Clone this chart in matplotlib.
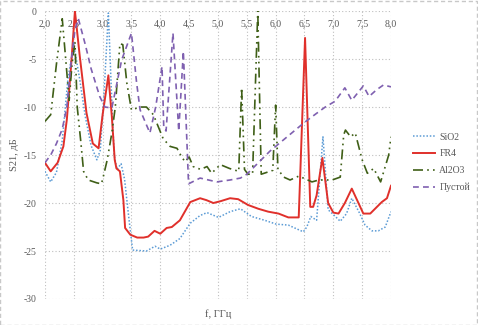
import matplotlib
matplotlib.use("Agg")
import matplotlib.pyplot as plt
from matplotlib.patches import Rectangle
from matplotlib.ticker import FuncFormatter

# S21 vs frequency for several substrates
f_sio2 = [2.0, 2.1, 2.2, 2.3, 2.4, 2.5, 2.6, 2.7, 2.8, 2.9, 2.96, 3.03, 3.1, 3.15, 3.2, 3.25,
          3.32, 3.38, 3.45, 3.52, 3.76, 3.91, 4.0, 4.17, 4.34, 4.52, 4.69, 4.81, 5.01, 5.21,
          5.39, 5.58, 5.81, 6.01, 6.22, 6.33, 6.48, 6.54, 6.61, 6.71, 6.82, 6.91, 7.0, 7.12,
          7.23, 7.32, 7.45, 7.55, 7.67, 7.78, 7.9, 8.0]
s_sio2 = [-16.7, -17.8, -16.8, -13.5, -7.0, -3.5, -7.0, -11.0, -14.0, -15.5, -14.5, -8.0, -0.2, -8.0,
          -15.0, -16.5, -15.9, -17.5, -21.3, -24.9, -25.0, -24.5, -24.8, -24.4, -23.7, -22.1, -21.3,
          -21.0, -21.5, -20.9, -20.6, -21.4, -21.8, -22.2, -22.3, -22.6, -23.0, -22.5, -21.4, -21.8,
          -13.1, -20.7, -21.2, -21.9, -21.1, -19.5, -21.0, -22.3, -22.9, -22.9, -22.5, -20.9]

f_fr4 = [2.0, 2.1, 2.22, 2.32, 2.38, 2.45, 2.52, 2.6, 2.72, 2.83, 2.93, 3.0, 3.1, 3.16, 3.21, 3.24,
         3.3, 3.36, 3.39, 3.48, 3.6, 3.71, 3.79, 3.9, 4.0, 4.11, 4.2, 4.34, 4.52, 4.69, 4.8, 4.92,
         5.05, 5.21, 5.35, 5.52, 5.7, 5.87, 6.05, 6.22, 6.4, 6.51, 6.6, 6.65, 6.71, 6.81, 6.91,
         7.0, 7.09, 7.2, 7.32, 7.52, 7.64, 7.84, 7.93, 8.0]
s_fr4 = [-15.8, -16.7, -15.8, -14.1, -11.3, -6.0, 0.0, -4.5, -10.6, -13.8, -14.3, -10.8, -6.7, -11.0,
         -15.5, -16.4, -16.7, -19.7, -22.6, -23.3, -23.6, -23.6, -23.5, -22.9, -23.2, -22.6, -22.5,
         -21.8, -19.9, -19.5, -19.7, -20.0, -19.8, -19.5, -19.6, -20.2, -20.6, -20.9, -21.1, -21.5,
         -21.5, -2.8, -20.4, -20.4, -19.2, -15.3, -20.0, -21.0, -21.1, -20.0, -18.5, -21.1, -21.1,
         -19.9, -19.5, -18.2]

f_al2o3 = [2.0, 2.1, 2.2, 2.3, 2.36, 2.42, 2.47, 2.52, 2.56, 2.62, 2.67, 2.75, 2.9, 2.98, 3.01, 3.08,
           3.16, 3.22, 3.3, 3.35, 3.42, 3.5, 3.65, 3.76, 3.88, 4.05, 4.17, 4.29, 4.37, 4.43, 4.5,
           4.57, 4.7, 4.81, 4.89, 5.04, 5.2, 5.36, 5.41, 5.46, 5.52, 5.6, 5.69, 5.75, 5.85, 5.95,
           6.0, 6.04, 6.14, 6.25, 6.4, 6.48, 6.63, 6.75, 6.98, 7.12, 7.18, 7.21, 7.3, 7.38, 7.5,
           7.59, 7.7, 7.82, 7.96, 8.0]
s_al2o3 = [-11.5, -10.8, -5.5, -0.8, -5.0, -9.3, -5.5, -3.2, -10.0, -13.5, -16.7, -17.6, -17.9, -18.0,
           -17.3, -15.5, -12.7, -10.0, -3.4, -3.5, -7.5, -10.3, -10.0, -10.0, -10.8, -13.3, -14.1,
           -14.3, -15.2, -15.7, -15.2, -16.2, -16.5, -16.2, -16.9, -16.0, -16.4, -16.7, -8.0, -16.5,
           -17.0, -17.0, 0.0, -17.0, -16.8, -16.6, -9.8, -16.5, -17.3, -17.6, -17.2, -17.4, -17.8,
           -17.6, -17.6, -17.3, -12.9, -12.4, -13.1, -12.7, -15.5, -16.9, -16.4, -17.8, -15.0, -13.1]

f_empty = [2.0, 2.1, 2.2, 2.3, 2.38, 2.45, 2.52, 2.58, 2.7, 2.8, 2.95, 3.04, 3.16, 3.33, 3.5, 3.59,
           3.65, 3.77, 3.82, 3.92, 4.03, 4.06, 4.1, 4.22, 4.32, 4.4, 4.49, 4.69, 4.98, 5.21, 5.39,
           5.5, 5.7, 5.9, 6.1, 6.3, 6.5, 6.7, 6.86, 7.03, 7.2, 7.32, 7.52, 7.62, 7.75, 7.87, 8.0]
s_empty = [-15.8, -15.0, -13.8, -12.3, -10.0, -5.5, -2.0, -0.8, -3.5, -6.0, -8.9, -10.0, -10.1, -5.1,
           -2.3, -7.5, -10.3, -12.0, -12.7, -10.0, -5.8, -12.1, -12.5, -2.3, -12.5, -4.2, -18.0,
           -17.4, -17.8, -17.6, -17.4, -17.0, -15.8, -14.6, -13.6, -12.6, -11.6, -10.7, -10.0, -9.4,
           -8.0, -9.3, -7.8, -8.9, -8.2, -7.7, -7.9]

labels = ["SiO2", "FR4", "Al2O3", "Пустой"]
x_ticks = [2.0, 2.5, 3.0, 3.5, 4.0, 4.5, 5.0, 5.5, 6.0, 6.5, 7.0, 7.5, 8.0]
y_ticks = [0, -5, -10, -15, -20, -25, -30]

plt.rcParams['font.family'] = ['Liberation Serif', 'DejaVu Serif']
plt.rcParams['axes.unicode_minus'] = False
txt = '#595959'

fig = plt.figure(figsize=(4.78, 3.25), dpi=100)
ax = fig.add_axes([0.094, 0.080, 0.724, 0.886])

ax.plot(f_sio2, s_sio2, color='#5B9BD5', lw=1.1, ls=(0, (1, 1.2)), label=labels[0])
ax.plot(f_fr4, s_fr4, color='#E0302B', lw=1.4, label=labels[1])
ax.plot(f_al2o3, s_al2o3, color='#3F5F17', lw=1.2, ls=(0, (6, 2.5, 1, 2.5, 1, 2.5)), label=labels[2])
ax.plot(f_empty, s_empty, color='#7F60B0', lw=1.2, ls=(0, (3.5, 2.5)), label=labels[3])

ax.set_xlim(2.0, 8.0)
ax.set_ylim(-30, 0)
ax.set_xticks(x_ticks)
ax.set_yticks(y_ticks)
ax.xaxis.set_major_formatter(FuncFormatter(lambda v, p: f"{v:.1f}".replace('.', ',')))
ax.yaxis.set_major_formatter(FuncFormatter(lambda v, p: f"{v:.0f}"))
ax.grid(True, color='#BFBFBF', ls=(0, (1, 2)), lw=0.8)
ax.set_axisbelow(True)
for s in ax.spines.values():
    s.set_visible(False)
ax.spines['bottom'].set_position(('data', 0))
ax.tick_params(axis='both', length=0, labelsize=7, labelcolor=txt)
ax.tick_params(axis='x', pad=6)
ax.tick_params(axis='y', pad=6)

ax.set_xlabel("f, ГГц", fontsize=7.5, color=txt)
ax.xaxis.set_label_coords(0.5, -0.035)
ax.set_ylabel("S21, дБ", fontsize=7.5, color=txt)
ax.yaxis.set_label_coords(-0.075, 0.5)

leg = ax.legend(loc='center left', bbox_to_anchor=(0.846, 0.5), bbox_transform=fig.transFigure,
                frameon=False, fontsize=7, handlelength=2.2, handletextpad=0.5, labelspacing=0.8)
for t in leg.get_texts():
    t.set_color(txt)

fig.patches.append(Rectangle((0.001, 0.001), 0.997, 0.996, transform=fig.transFigure, fill=False,
                             ec='#C8C8C8', lw=1, ls=(0, (3, 2))))

fig.savefig("out.png", dpi=100)
